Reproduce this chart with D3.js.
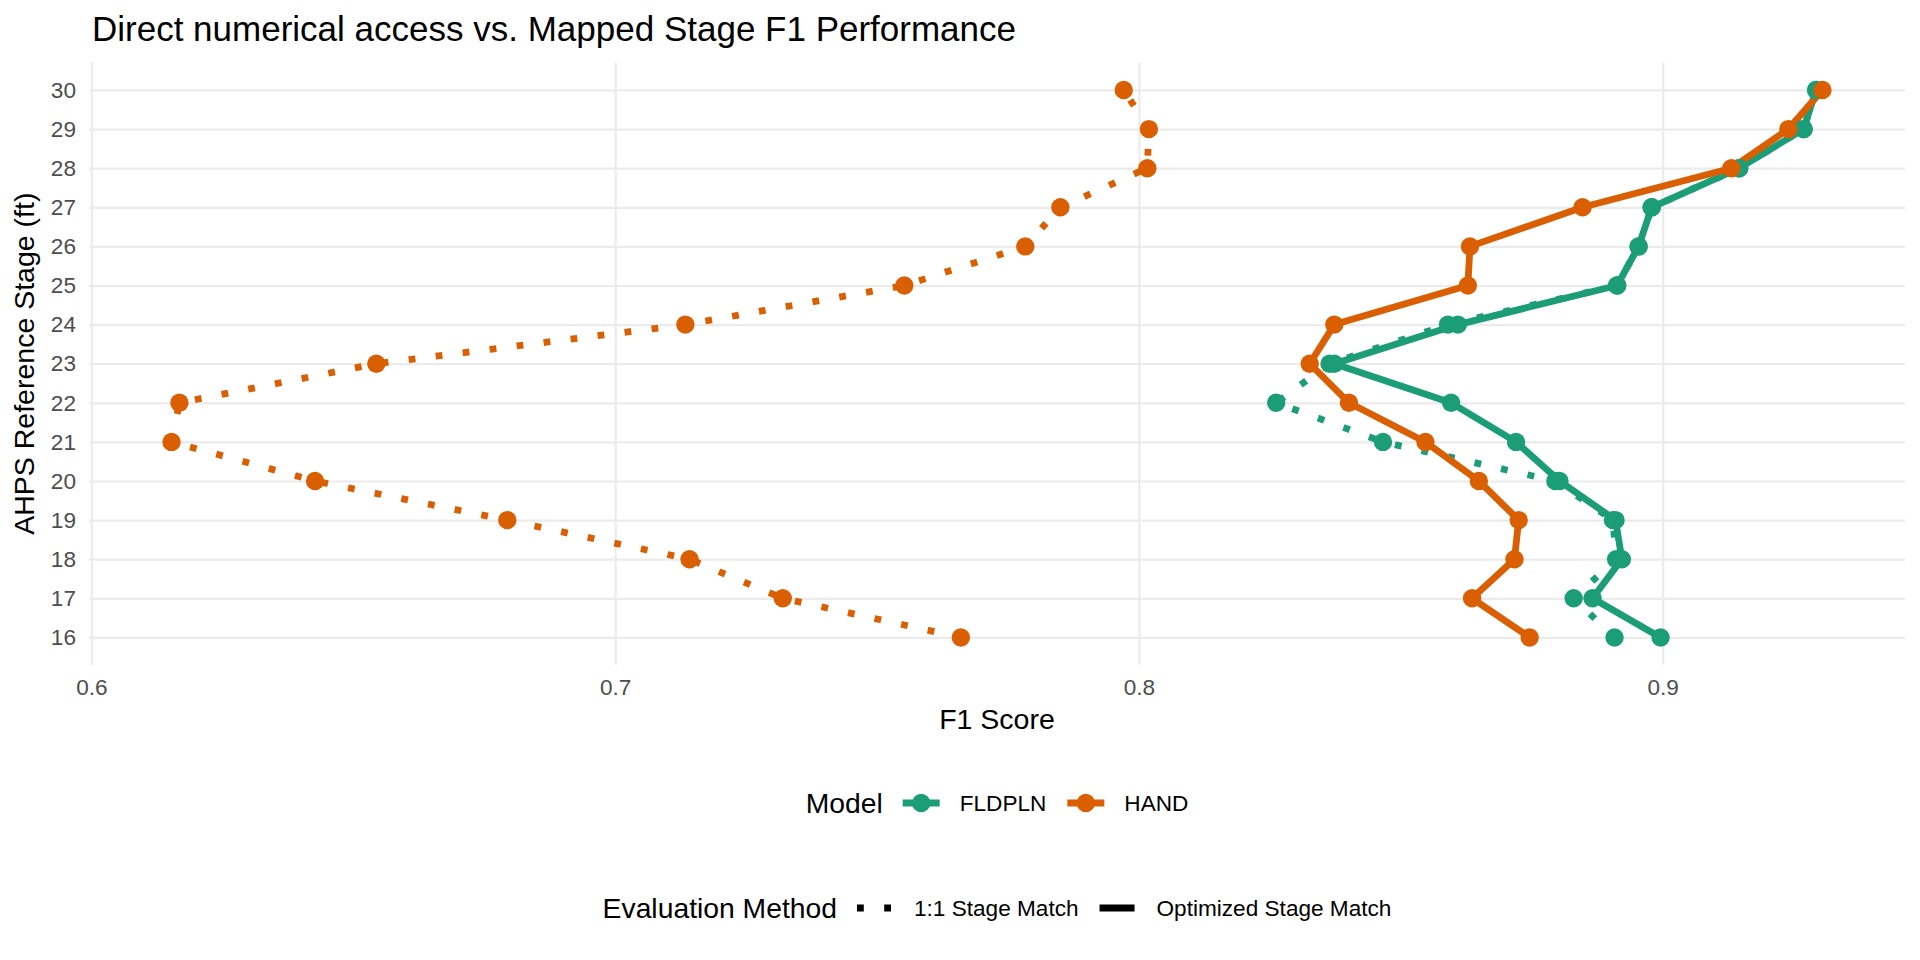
<!DOCTYPE html>
<html>
<head>
<meta charset="utf-8">
<script src="https://cdn.jsdelivr.net/npm/d3@7"></script>
<style>
    body { margin: 0; background: #fff; }
    svg text { font-family: "Liberation Sans", Arial, sans-serif; }
</style>
</head>
<body>
<svg id="chart" width="1920" height="960"></svg>
<script>
const stages = [16, 17, 18, 19, 20, 21, 22, 23, 24, 25, 26, 27, 28, 29, 30];
const fldplnOneToOne = [0.8908, 0.8830, 0.8911, 0.8905, 0.8795, 0.8466, 0.8262, 0.8364, 0.8590, 0.8913, 0.8954, 0.8979, 0.9146, 0.9269, 0.9293];
const fldplnOptimized = [0.8996, 0.8866, 0.8922, 0.8910, 0.8803, 0.8720, 0.8596, 0.8373, 0.8609, 0.8913, 0.8954, 0.8979, 0.9146, 0.9269, 0.9293];
const handOneToOne = [0.7660, 0.7320, 0.7142, 0.6794, 0.6427, 0.6153, 0.6168, 0.6544, 0.7134, 0.7552, 0.7783, 0.7850, 0.8016, 0.8019, 0.7971];
const handOptimized = [0.8746, 0.8636, 0.8717, 0.8725, 0.8649, 0.8547, 0.8401, 0.8326, 0.8373, 0.8628, 0.8632, 0.8847, 0.9131, 0.9240, 0.9305];
const models = ["FLDPLN", "HAND"];
const methods = ["1:1 Stage Match", "Optimized Stage Match"];
const xTicks = [0.6, 0.7, 0.8, 0.9];

const color = d3.scaleOrdinal().domain(models).range(["#1B9E77", "#D95F02"]);
const lineWidth = 6.8;
const dashes = {"1:1 Stage Match": `${lineWidth} ${lineWidth * 3}`, "Optimized Stage Match": null};

const series = [
    {model: "FLDPLN", method: methods[0], values: fldplnOneToOne},
    {model: "FLDPLN", method: methods[1], values: fldplnOptimized},
    {model: "HAND", method: methods[0], values: handOneToOne},
    {model: "HAND", method: methods[1], values: handOptimized}
].map(s => ({...s, points: stages.map((st, i) => ({stage: st, f1: s.values[i]}))}));

const svg = d3.select('#chart');
const margin = {top: 62.6, right: 15, bottom: 295.2, left: 89};
const innerWidth = 1920 - margin.left - margin.right;
const innerHeight = 960 - margin.top - margin.bottom;
const g = svg.append('g').attr('transform', `translate(${margin.left}, ${margin.top})`);

// ggplot style 5% expansion on both axes
const allF1 = series.flatMap(s => s.values);
const [xMin, xMax] = d3.extent(allF1);
const xPad = (xMax - xMin) * 0.05;
const xScale = d3.scaleLinear().domain([xMin - xPad, xMax + xPad]).range([0, innerWidth]);
const [yMin, yMax] = d3.extent(stages);
const yPad = (yMax - yMin) * 0.05;
const yScale = d3.scaleLinear().domain([yMin - yPad, yMax + yPad]).range([innerHeight, 0]);

// grid
g.append('g')
    .attr('transform', `translate(0, ${innerHeight})`)
    .call(d3.axisBottom(xScale).tickValues(xTicks).tickSize(-innerHeight))
    .call(a => a.select('.domain').remove())
    .call(a => a.selectAll('text').remove())
    .call(a => a.selectAll('line').attr('stroke', '#EBEBEB').attr('stroke-width', 2.2));
g.append('g')
    .call(d3.axisLeft(yScale).tickValues(stages).tickSize(-innerWidth))
    .call(a => a.select('.domain').remove())
    .call(a => a.selectAll('text').remove())
    .call(a => a.selectAll('line').attr('stroke', '#EBEBEB').attr('stroke-width', 2.2));

// tick labels
const xAxis = g.append('g')
    .attr('transform', `translate(0, ${innerHeight})`)
    .call(d3.axisBottom(xScale).tickValues(xTicks).tickSize(0).tickPadding(14).tickFormat(d3.format('.1f')));
const yAxis = g.append('g')
    .call(d3.axisLeft(yScale).tickValues(stages).tickSize(0).tickPadding(13).tickFormat(d3.format('d')));
[xAxis, yAxis].forEach(a => {
    a.select('.domain').remove();
    a.selectAll('line').remove();
    a.selectAll('text').attr('fill', '#4D4D4D').attr('font-size', 22.6)
        .attr('font-family', '"Liberation Sans", Arial, sans-serif');
});

// lines then points, ordered by stage (path, not x-sorted)
const line = d3.line()
    .x(d => xScale(d.f1))
    .y(d => yScale(d.stage));

g.selectAll('.series')
    .data(series)
    .join('path')
    .classed('series', true)
    .attr('d', d => line(d.points))
    .attr('fill', 'none')
    .attr('stroke', d => color(d.model))
    .attr('stroke-width', lineWidth)
    .attr('stroke-dasharray', d => dashes[d.method])
    .attr('stroke-linejoin', 'round');

series.forEach(s => {
    g.append('g').selectAll('circle')
        .data(s.points)
        .join('circle')
        .attr('cx', d => xScale(d.f1))
        .attr('cy', d => yScale(d.stage))
        .attr('r', 9.2)
        .attr('fill', color(s.model));
});

// titles
svg.append('text')
    .attr('x', 92)
    .attr('y', 40.7)
    .attr('font-size', 35)
    .attr('fill', 'black')
    .text('Direct numerical access vs. Mapped Stage F1 Performance');

svg.append('text')
    .attr('x', margin.left + innerWidth / 2)
    .attr('y', 728.7)
    .attr('text-anchor', 'middle')
    .attr('font-size', 28.5)
    .attr('fill', 'black')
    .text('F1 Score');

svg.append('text')
    .attr('transform', `translate(34, ${margin.top + innerHeight / 2}) rotate(-90)`)
    .attr('text-anchor', 'middle')
    .attr('font-size', 28.5)
    .attr('fill', 'black')
    .text('AHPS Reference Stage (ft)');

// legends
const keyWidth = 37;
function legendRow(cy, title, items, drawKey) {
    const row = svg.append('g');
    let cx = 0;
    const t = row.append('text')
        .attr('x', cx).attr('y', cy).attr('dy', '0.35em')
        .attr('font-size', 28.3)
        .attr('fill', 'black')
        .text(title);
    cx += t.node().getComputedTextLength() + 20;
    items.forEach(item => {
        const k = row.append('g').attr('transform', `translate(${cx}, ${cy})`);
        drawKey(k, item);
        cx += keyWidth + 20;
        const lab = row.append('text')
            .attr('x', cx).attr('y', cy).attr('dy', '0.35em')
            .attr('font-size', 22.6)
            .attr('fill', 'black')
            .text(item);
        cx += lab.node().getComputedTextLength() + 21;
    });
    const total = cx - 21;
    row.attr('transform', `translate(${margin.left + innerWidth / 2 - total / 2}, 0)`);
}

legendRow(803, 'Model', models, (k, m) => {
    k.append('line').attr('x1', 0).attr('x2', keyWidth)
        .attr('stroke', color(m)).attr('stroke-width', lineWidth);
    k.append('circle').attr('cx', keyWidth / 2).attr('r', 9.2).attr('fill', color(m));
});

legendRow(908, 'Evaluation Method', methods, (k, m) => {
    k.append('line').attr('x1', 0).attr('x2', keyWidth - 2)
        .attr('stroke', 'black').attr('stroke-width', lineWidth)
        .attr('stroke-dasharray', dashes[m]);
});
</script>
</body>
</html>
